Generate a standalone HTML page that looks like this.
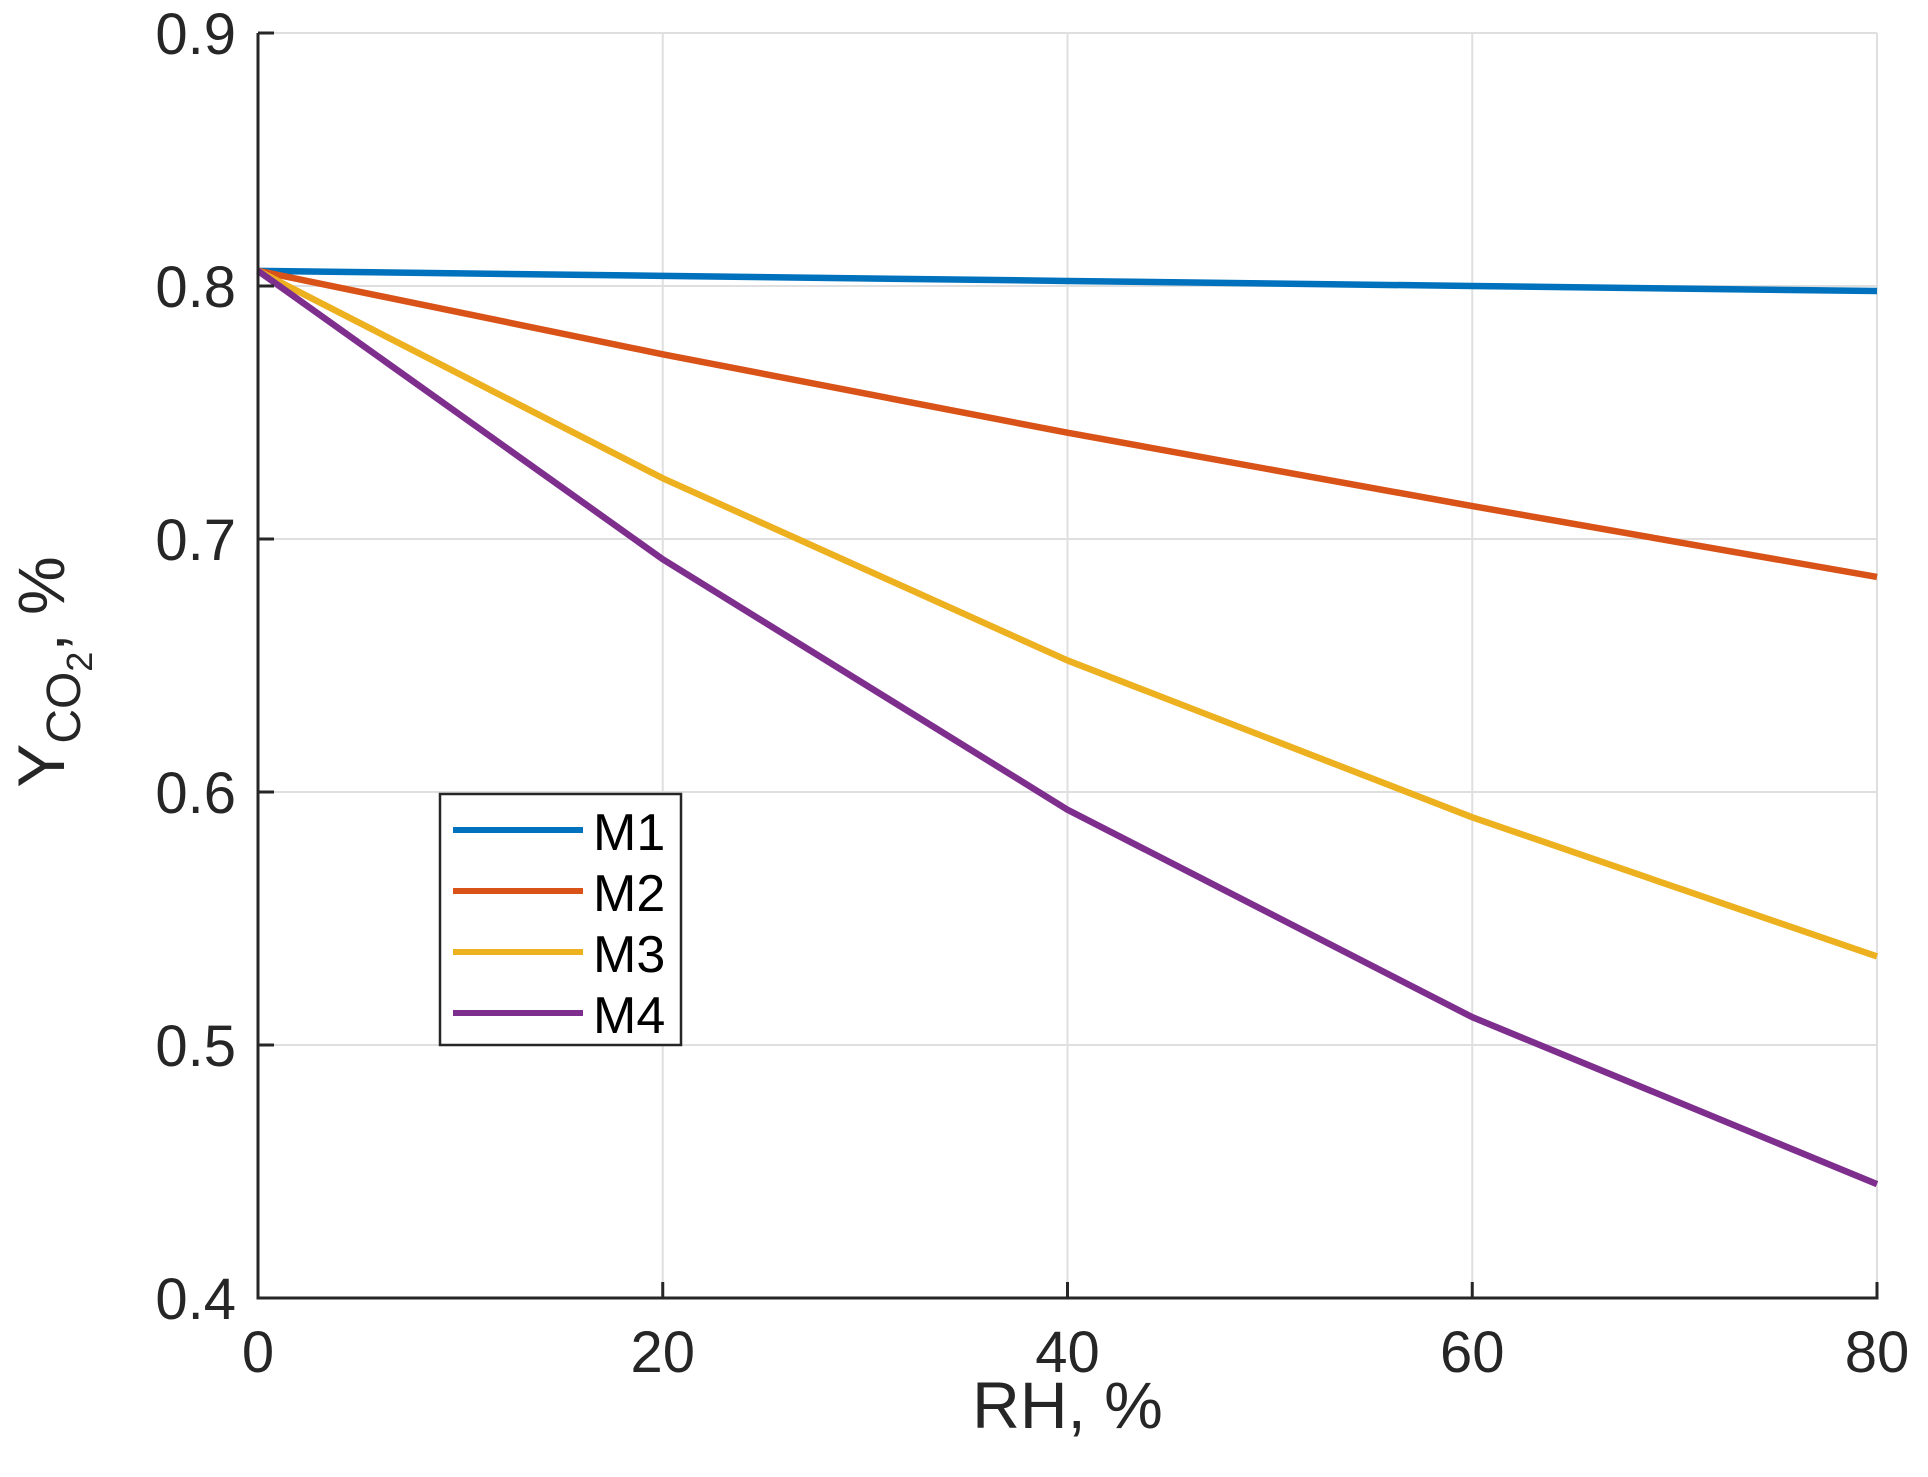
<!DOCTYPE html>
<html><head><meta charset="utf-8"><style>
html,body{margin:0;padding:0;background:#fff;}
svg{display:block;font-family:"Liberation Sans",Arial,sans-serif;}
</style></head><body>
<svg id="chart" width="1928" height="1477" viewBox="0 0 1928 1477"></svg>
<script>
const xVals=[0,20,40,60,80];
const m1=[0.806,0.804,0.802,0.800,0.798];
const m2=[0.806,0.773,0.742,0.713,0.685];
const m3=[0.806,0.724,0.652,0.590,0.535];
const m4=[0.806,0.692,0.593,0.511,0.445];
const seriesNames=["M1","M2","M3","M4"];
const xTicks=[0,20,40,60,80];
const yTicks=[0.4,0.5,0.6,0.7,0.8,0.9];
const yTickLabels=["0.4","0.5","0.6","0.7","0.8","0.9"];

const NS="http://www.w3.org/2000/svg";
const svg=document.getElementById('chart');
const L=258,R=1877,T=33,B=1298;
const xs=v=>L+(v-0)/(80-0)*(R-L);
const ys=v=>B-(v-0.4)/(0.9-0.4)*(B-T);
function mk(tag,attrs,parent){const e=document.createElementNS(NS,tag);for(const k in attrs)e.setAttribute(k,attrs[k]);(parent||svg).appendChild(e);return e;}

const grid=mk('g',{});


xTicks.forEach(t=>{const l=mk('line',{x1:xs(t),x2:xs(t),y1:T,y2:B,stroke:'#dfdfdf','stroke-width':2},grid);

});
yTicks.forEach(t=>{const l=mk('line',{x1:L,x2:R,y1:ys(t),y2:ys(t),stroke:'#dfdfdf','stroke-width':2},grid);

});

const colors=['#0072bd','#d95319','#edb120','#7e2f8e'];
const data=[m1,m2,m3,m4];
data.forEach((s,i)=>{const p=mk('polyline',{points:s.map((v,j)=>xs(xVals[j])+','+ys(v)).join(' '),fill:'none',stroke:colors[i],'stroke-width':6.5,'stroke-linejoin':'round'});

});

const ax=mk('g',{});


mk('path',{d:`M${L},${T} L${L},${B} L${R},${B} L${R},${B-16}`,fill:'none',stroke:'#262626','stroke-width':3},ax);
xTicks.forEach(t=>{mk('line',{x1:xs(t),x2:xs(t),y1:B,y2:B-16,stroke:'#262626','stroke-width':3},ax);
const tx=mk('text',{x:xs(t),y:B+74,'font-size':58,fill:'#262626','text-anchor':'middle'},ax);tx.textContent=t;

});
yTicks.forEach((t,i)=>{mk('line',{x1:L,x2:L+16,y1:ys(t),y2:ys(t),stroke:'#262626','stroke-width':3},ax);
const tx=mk('text',{x:L-22,y:ys(t)+21,'font-size':58,fill:'#262626','text-anchor':'end'},ax);tx.textContent=yTickLabels[i];

});

const xl=mk('text',{x:(L+R)/2,y:1428,'font-size':66,fill:'#262626','text-anchor':'middle'});
xl.textContent='RH, %';


const yl=mk('text',{transform:'translate(64,672) rotate(-90)','font-size':66,fill:'#262626','text-anchor':'middle'});


yl.innerHTML='Y<tspan dy="16" font-size="48">CO</tspan><tspan dy="12" font-size="36">2</tspan><tspan dy="-28">, %</tspan>';

const lg=mk('g',{});


mk('rect',{x:440,y:794,width:241,height:251,fill:'#fff',stroke:'#262626','stroke-width':2.5},lg);
seriesNames.forEach((n,i)=>{const y=830+i*61;
mk('line',{x1:453,x2:583,y1:y,y2:y,stroke:colors[i],'stroke-width':6},lg);
const t=mk('text',{x:593,y:y+20,'font-size':52,fill:'#000'},lg);t.textContent=n;

});
</script>
</body></html>
